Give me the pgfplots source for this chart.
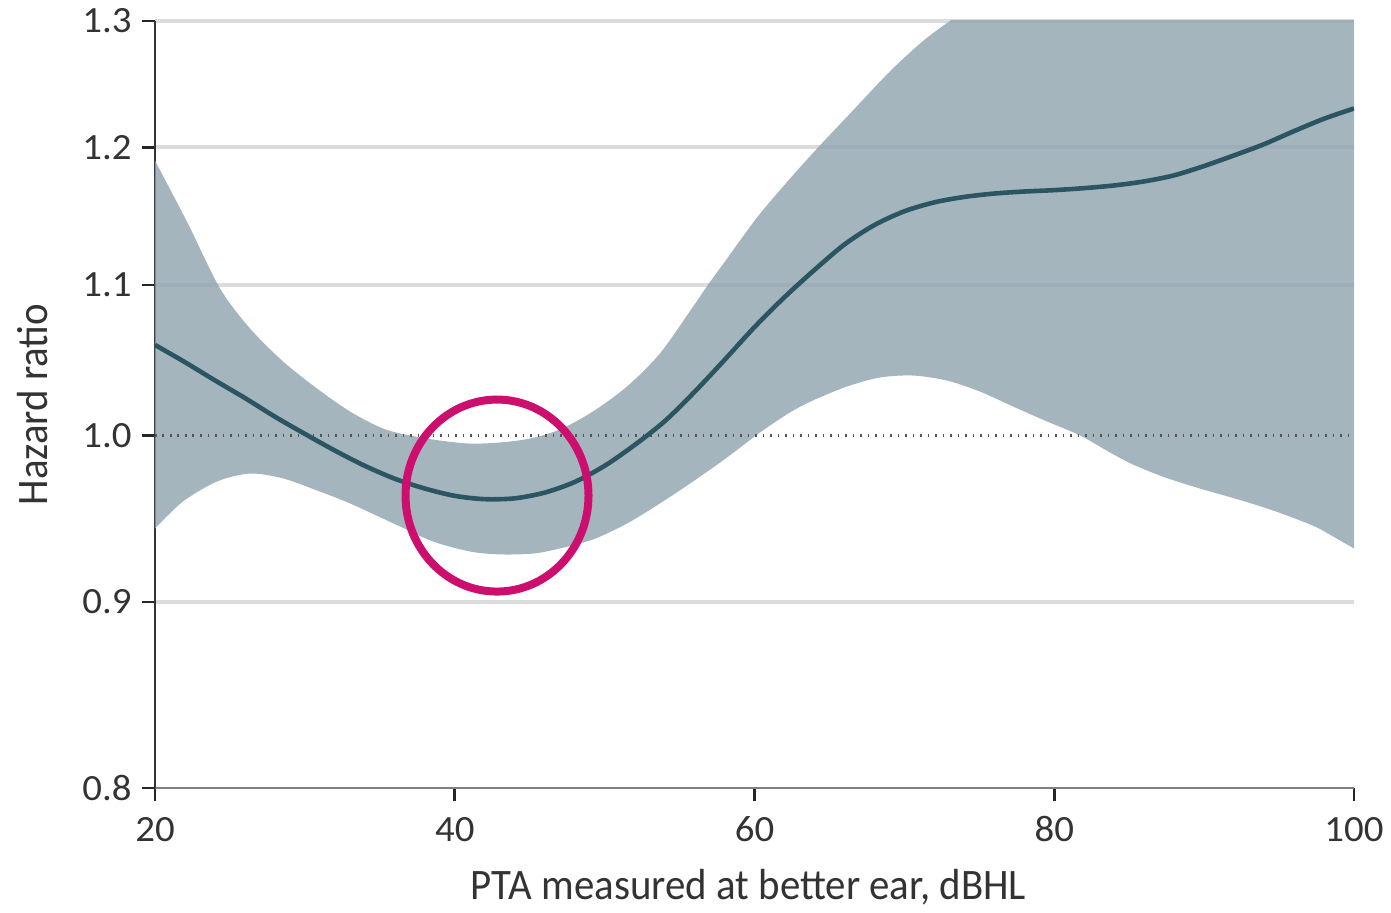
\documentclass[border=0pt]{standalone}
\usepackage{pgfplots}
\pgfplotsset{compat=1.18}
\usepgfplotslibrary{fillbetween}
\usepackage{fontspec}
\setmainfont{Carlito}[FakeStretch=0.94]
\newfontfamily\tickfont{Carlito}[FakeStretch=1.05]
\definecolor{bandc}{HTML}{8FA2AE}
\definecolor{linec}{HTML}{2A5561}
\definecolor{gridc}{HTML}{DCDCDC}
\definecolor{circc}{HTML}{CC0F6F}
\definecolor{labc}{HTML}{333333}
\definecolor{dotc}{HTML}{555555}
\definecolor{xaxc}{HTML}{808080}
\definecolor{yaxc}{HTML}{333333}

% upper confidence limit
\pgfplotstableread{
x y
20 1.190
22.20 1.1435
24.34 1.0975
26.34 1.0701
28.54 1.0480
30.81 1.0302
33.01 1.0153
35.21 1.0044
37.01 1.0000
39.02 0.9968
41.02 0.9949
43.02 0.9956
45.02 0.9981
47.02 1.0038
49.22 1.0153
51.49 1.0315
53.69 1.0533
55.90 1.0850
56.91 1.1003
58.17 1.1185
59.03 1.1313
60.37 1.1508
62.37 1.1766
64.24 1.2000
66.37 1.2260
68.37 1.2510
69.71 1.2670
71.38 1.2850
73.04 1.3000
74.70 1.313
76.40 1.324
80.00 1.345
85.00 1.372
90.00 1.398
95.00 1.421
100 1.44
}\tabU

% lower confidence limit
\pgfplotstableread{
x y
20 0.9428
21.87 0.9591
24.14 0.9713
26.34 0.9762
28.54 0.9732
30.81 0.9658
33.01 0.9579
36.35 0.9440
38.55 0.9351
41.02 0.9292
43.02 0.9275
45.22 0.9280
47.02 0.9310
49.22 0.9363
51.49 0.9458
53.69 0.9579
55.90 0.9713
58.17 0.9862
60.37 1.0019
62.37 1.0147
63.90 1.0224
66.17 1.0315
68.37 1.0374
70.57 1.0387
72.84 1.0354
75.05 1.0282
77.25 1.0185
79.52 1.0089
81.72 1.0000
83.72 0.9893
85.25 0.9818
87.39 0.9738
89.72 0.9670
92.06 0.9609
94.19 0.9549
96.06 0.9488
97.53 0.9434
98.77 0.9372
100 0.9310
}\tabL

% hazard ratio
\pgfplotstableread{
x y
20 1.059
22 1.0475
24 1.0355
26 1.024
28 1.012
30 1.001
32 0.9905
34 0.981
36 0.973
38 0.967
40 0.9625
42 0.9605
44 0.961
46 0.9645
48 0.971
50 0.981
52 0.994
54 1.009
56 1.028
58 1.049
60 1.071
62 1.0915
64 1.1105
66 1.1285
68 1.1425
70 1.1525
72 1.1590
74 1.1630
76 1.1655
78 1.167
80 1.168
82 1.1695
84 1.1715
86 1.1745
88 1.179
90 1.186
92 1.194
94 1.2025
96 1.2125
98 1.222
100 1.230
}\tabC

\begin{document}
\begin{tikzpicture}
\begin{axis}[
  scale only axis, width=599.5pt, height=383.5pt,
  xmin=20, xmax=100, ymin=0.8, ymax=1.3, ymode=log,
  axis x line*=bottom, axis y line*=left,
  xtick={20,40,60,80,100}, xticklabels={20,40,60,80,100},
  ytick={0.8,0.9,1.0,1.1,1.2,1.3}, yticklabels={0.8,0.9,1.0,1.1,1.2,1.3},
  yminorticks=false, xminorticks=false,
  tick align=outside, major tick length=6.5pt,
  tick style={line width=1.3pt, color=black!85},
  x axis line style={line width=1.2pt, color=xaxc},
  y axis line style={line width=1pt, color=yaxc},
  /pgf/number format/assume math mode=true,
  ticklabel style={font=\tickfont\fontsize{18.5}{22}\selectfont, text=labc},
  xticklabel style={anchor=base, yshift=-20.5pt},
  yticklabel style={anchor=east, inner sep=0pt, xshift=-5pt},
  extra y ticks={0.9,1.1,1.2,1.3}, extra y tick labels={},
  extra y tick style={grid=major, major grid style={gridc, line width=2pt}},
  xlabel={PTA measured at better ear, dBHL},
  ylabel={Hazard ratio},
  xlabel style={at={(axis description cs:0.495,-0.146)}, anchor=base, font=\fontsize{21.75}{26}\selectfont, text=labc},
  ylabel style={at={(axis description cs:-0.1018,0.5)}, anchor=center, font=\fontsize{21.75}{26}\selectfont, text=labc},
]
\addplot[name path=U, draw=none, smooth] table {\tabU};
\addplot[name path=L, draw=none, smooth] table {\tabL};
\addplot[fill=bandc, fill opacity=0.8, draw=none] fill between[of=U and L];
\addplot[dotc, line width=1.1pt, dash pattern=on 0.9pt off 2.85pt] coordinates {(20,1) (100,1)};
\addplot[linec, line width=2.3pt, smooth] table {\tabC};
\draw[circc, line width=4pt] (axis cs:42.82,0.9627) ellipse [x radius=45.75pt, y radius=48pt];
\end{axis}
\path (-77.5pt,-60pt) rectangle (618pt,394pt);
\end{tikzpicture}
\end{document}
